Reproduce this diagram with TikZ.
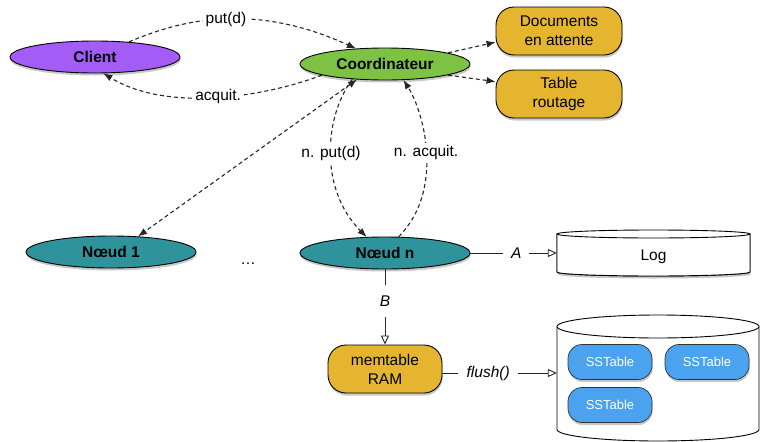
\documentclass[tikz,border=0pt]{standalone}
\usepackage{fontspec}
\setmainfont{Liberation Sans}
\usetikzlibrary{arrows.meta,shapes.geometric,shadows}
\definecolor{cpurple}{HTML}{A35CF5}
\definecolor{cgreen}{HTML}{7DC243}
\definecolor{cgold}{HTML}{E6B530}
\definecolor{cteal}{HTML}{2F939B}
\definecolor{cblue}{HTML}{4BA3EF}
\begin{document}
\begin{tikzpicture}[x=1pt,y=-1pt,
  font=\fontsize{15.5}{19}\selectfont,
  shad/.style={drop shadow={shadow xshift=0.6pt,shadow yshift=-2.5pt,opacity=0.22,fill=black}},
  ell/.style={ellipse,draw=black,line width=0.9pt,minimum width=170pt,minimum height=32pt,inner sep=0pt,font=\fontsize{15.5}{19}\selectfont\bfseries,shad},
  rbox/.style={rectangle,rounded corners=18pt,draw=black,line width=0.9pt,fill=cgold,minimum width=126pt,minimum height=48pt,align=center,inner sep=0pt,shad},
  sst/.style={rectangle,rounded corners=14pt,draw=black!80,line width=0.7pt,fill=cblue,minimum width=84pt,minimum height=35pt,inner sep=0pt,text=white,font=\fontsize{13}{15}\selectfont,shad},
  dsh/.style={draw=black!85,line width=1.1pt,dash pattern=on 4pt off 3pt,-{Latex[length=9pt,width=7pt]}},
  dshboth/.style={dsh,{Latex[length=9pt,width=7pt]}-{Latex[length=9pt,width=7pt]}},
  solidarr/.style={draw=black!85,line width=0.9pt,-{Triangle[open,length=9pt,width=8pt]}},
  lbl/.style={fill=white,inner sep=3pt},
  cyl/.style={draw=black,line width=0.9pt,fill=white}
]
\useasboundingbox (0,0) rectangle (761,442);

% cylinders
\path[cyl,shad] (557,234) -- (557,272) arc[start angle=180,end angle=360,x radius=96.5pt,y radius=4pt] -- (750,234) -- cycle;
\draw[cyl] (557,234) -- (557,272) arc[start angle=180,end angle=360,x radius=96.5pt,y radius=4pt] -- (750,234);
\draw[cyl] (653.5,234) ellipse[x radius=96.5pt,y radius=4pt];
\draw[cyl] (557,326.5) -- (557,429.5) arc[start angle=180,end angle=360,x radius=101pt,y radius=11.5pt] -- (759,326.5);
\draw[cyl] (658,326.5) ellipse[x radius=101pt,y radius=11.5pt];

\node[minimum width=193pt,minimum height=36pt,inner sep=0pt] (log) at (653.5,257) {Log};
\node[minimum width=202pt,minimum height=100pt,inner sep=0pt] (store) at (658,373) {};

% nodes
\node[ell,fill=cpurple] (client) at (95,57) {Client};
\node[ell,fill=cgreen] (coord) at (385,64) {Coordinateur};
\node[rbox] (docs) at (559,31) {Documents\\en attente};
\node[rbox] (table) at (559,94) {Table\\routage};
\node[ell,fill=cteal] (n1) at (111,252) {N\oe ud 1};
\node[ell,fill=cteal] (nn) at (385,253) {N\oe ud n};
\node[anchor=base] (dots) at (248,264) {\dots};
\node[rbox,minimum width=114pt] (mem) at (385,369) {memtable\\RAM};
\node[sst] (s1) at (610,362) {SSTable};
\node[sst] (s2) at (707,362) {SSTable};
\node[sst] (s3) at (610,405) {SSTable};

% dashed connectors
\draw[dsh] (client.24) .. controls (185,18) and (256,3) .. (coord.152) node[lbl,pos=0.5] {put(d)};
\draw[dsh] (coord.190) .. controls (270,95) and (170,114) .. (client.297) node[lbl,pos=0.5] {acquit.};
\draw[dsh] (coord.10) -- (docs.190);
\draw[dsh] (coord.350) -- (table.169);
\draw[dshboth] (coord.209) -- (n1.30);
\draw[dsh] (coord.205) .. controls (325,115) and (318,188) .. (nn.139) node[lbl,pos=0.5] {n. put(d)};
\draw[dsh] (nn.50) .. controls (445,190) and (424,112) .. (coord.319) node[lbl,pos=0.5] {n. acquit.};

% solid connectors
\draw[solidarr] (nn.east) -- node[lbl,pos=0.53,inner xsep=8pt] {\itshape A} (log.west |- nn.east);
\draw[solidarr] (nn.south) -- node[lbl,pos=0.42,inner ysep=11pt] {\itshape B} (mem.north);
\draw[solidarr] (mem.east |- store.west) -- node[lbl,pos=0.4,inner xsep=8.5pt] {\itshape flush()} (store.west);
\end{tikzpicture}
\end{document}
